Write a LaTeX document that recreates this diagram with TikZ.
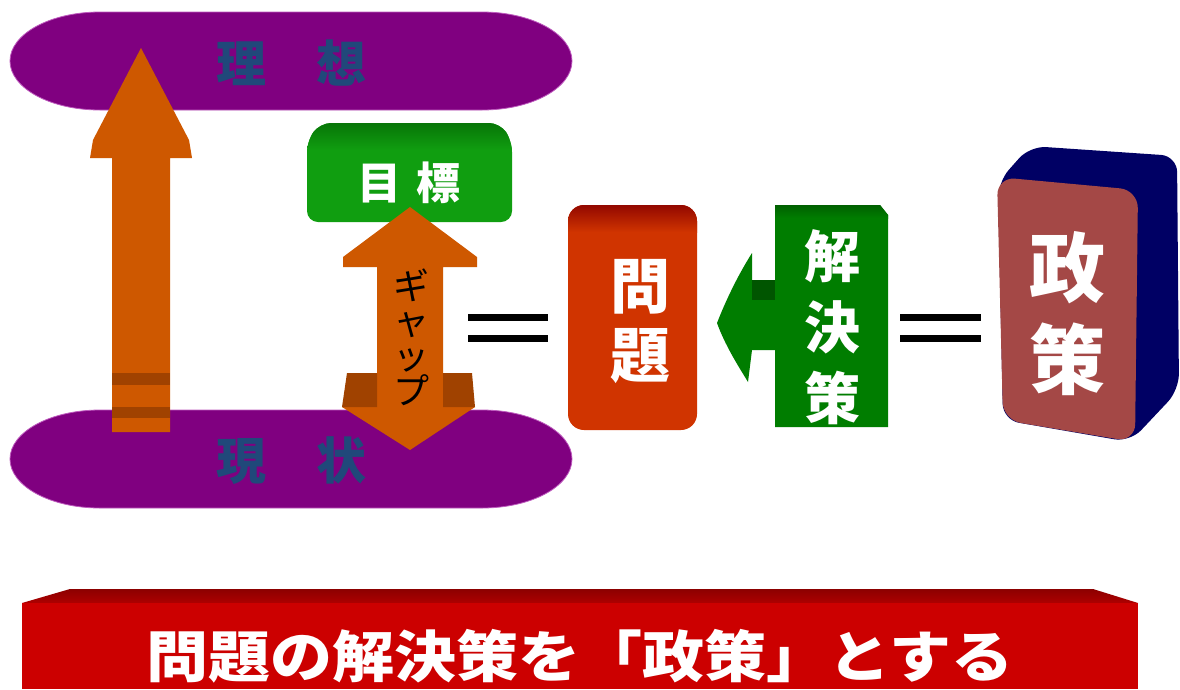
\documentclass[tikz,border=0pt]{standalone}
\usepackage{fontspec}
\newfontfamily\jp{Noto Sans CJK JP}
\definecolor{purp}{RGB}{128,0,128}
\definecolor{purpedge}{RGB}{190,90,190}
\definecolor{orng}{RGB}{206,88,0}
\definecolor{orngdk}{RGB}{160,66,0}
\definecolor{grn}{RGB}{16,158,16}
\definecolor{grndk}{RGB}{6,110,6}
\definecolor{grntwo}{RGB}{0,125,0}
\definecolor{grntwodk}{RGB}{0,85,0}
\definecolor{probred}{RGB}{208,52,0}
\definecolor{probdk}{RGB}{135,0,0}
\definecolor{polfront}{RGB}{164,72,70}
\definecolor{polback}{RGB}{0,0,100}
\definecolor{bannerred}{RGB}{204,0,0}
\definecolor{bannerdk}{RGB}{140,0,0}
\definecolor{txtblue}{RGB}{32,72,122}
\begin{document}
\begin{tikzpicture}[x=1pt,y=-1pt,
  ellbar/.style={fill=purp, draw=purpedge, line width=0.8pt},
  bluelbl/.style={font=\jp\bfseries\fontsize{50}{50}\selectfont, text=txtblue, inner sep=0pt},
  whitelbl/.style={font=\jp\bfseries, text=white, inner sep=0pt, align=center},
  eqline/.style={line width=7pt, black},
  arrowfill/.style={fill=orng},
  darkface/.style={fill=orngdk}]
\useasboundingbox (0,0) rectangle (1180,689);
\fill[white] (0,0) rectangle (1180,689);

% ---------- purple bars ----------
\path[ellbar] (100,12) -- (482,12) arc[start angle=-90,end angle=90,x radius=90,y radius=49] -- (100,110) arc[start angle=90,end angle=270,x radius=90,y radius=49] -- cycle;
\path[ellbar] (100,410) -- (482,410) arc[start angle=-90,end angle=90,x radius=90,y radius=49] -- (100,508) arc[start angle=90,end angle=270,x radius=90,y radius=49] -- cycle;

% ---------- left tall arrow ----------
\path[arrowfill] (112,432) -- (112,158) -- (90,158) -- (93,140) -- (141,48) -- (189,140) -- (192,158) -- (170,158) -- (170,432) -- cycle;
\fill[orngdk] (112,373) rectangle (170,385);
\fill[orngdk] (112,407) rectangle (170,418);

\node[bluelbl] (riso) at (291,63) {理　想};
\node[bluelbl] (genjo) at (291,461) {現　状};

% ---------- goal box ----------
\def\goalshape{(320,123) -- (500,123) -- (512,141) -- (512,222) -- (307,222) -- (307,141) -- cycle}
\fill[grn, rounded corners=11] \goalshape;
\begin{scope}
  \clip[rounded corners=11] \goalshape;
  \shade[top color=grndk, bottom color=grn] (300,118) rectangle (520,150);
\end{scope}
\node[whitelbl, font=\jp\bfseries\fontsize{44}{44}\selectfont] (goal) at (409,183) {目\hspace{0.35em}標};

% ---------- gap arrow ----------
\path[arrowfill] (410,207) -- (477,257) -- (477,267) -- (443,267) -- (443,407) -- (475,407) -- (410,450) -- (342,407) -- (377,407) -- (377,267) -- (343,267) -- (343,257) -- cycle;
\path[darkface] (347,373) -- (377,373) -- (377,407) -- (342,407) -- cycle;
\path[darkface] (443,373) -- (472,373) -- (475,407) -- (443,407) -- cycle;
\node[font=\jp\fontsize{36}{35}\selectfont, align=center, inner sep=0pt, text=black] (gap) at (411,337) {ギ\\ャ\\ッ\\プ};

% ---------- equals ----------
\draw[eqline] (468,317) -- (548,317);
\draw[eqline] (468,338) -- (548,338);
\draw[eqline] (900,317) -- (981,317);
\draw[eqline] (900,338) -- (981,338);

% ---------- problem box ----------
\def\probshape{(568,205) rectangle (697,430)}
\fill[probred, rounded corners=16] \probshape;
\begin{scope}
  \clip[rounded corners=16] \probshape;
  \shade[top color=probdk, bottom color=probred] (560,200) rectangle (705,232);
\end{scope}
\node[whitelbl, font=\jp\bfseries\fontsize{60}{69}\selectfont] (mondai) at (640,322) {問\\題};

% ---------- green arrow ----------
\fill[grntwo] (717,323) .. controls (728,295) and (740,272) .. (752,253) -- (752,280) -- (780,280) -- (780,350) -- (752,350) -- (748,382) .. controls (737,364) and (725,345) .. (717,323) -- cycle;
\fill[grntwodk] (752,280) rectangle (778,300);

% ---------- solution box ----------
\def\solshape{(775,205) -- (880,205) -- (888,215) -- (888,427) -- (775,427) -- cycle}
\fill[grntwo] \solshape;
\begin{scope}
  \clip \solshape;
  \shade[top color=grntwodk, bottom color=grntwo] (770,200) rectangle (892,218);
\end{scope}
\node[whitelbl, font=\jp\bfseries\fontsize{56}{71}\selectfont] (kaiketsu) at (832,327) {解\\決\\策};

% ---------- policy block ----------
\fill[polback, rounded corners=16] (998,182) -- (1030,146) -- (1177,156) -- (1179,390) -- (1130,442) -- (1003,420) -- cycle;
\fill[polfront, rounded corners=18] (997,177) -- (1138,190) -- (1135,442) -- (1003,420) -- cycle;
\node[whitelbl, font=\jp\bfseries\fontsize{76}{92}\selectfont] (seisaku) at (1067,314) {政\\策};

% ---------- banner ----------
\shade[top color=bannerdk, bottom color=bannerred!85!black] (22,603) -- (70,589) -- (1093,589) -- (1138,603) -- cycle;
\fill[bannerred] (22,603) rectangle (1138,689);
\node[whitelbl, font=\jp\bfseries\fontsize{62}{62}\selectfont] (slogan) at (580,656) {\scalebox{1}[0.9]{問題の解決策を「政策」とする}};
\end{tikzpicture}
\end{document}
